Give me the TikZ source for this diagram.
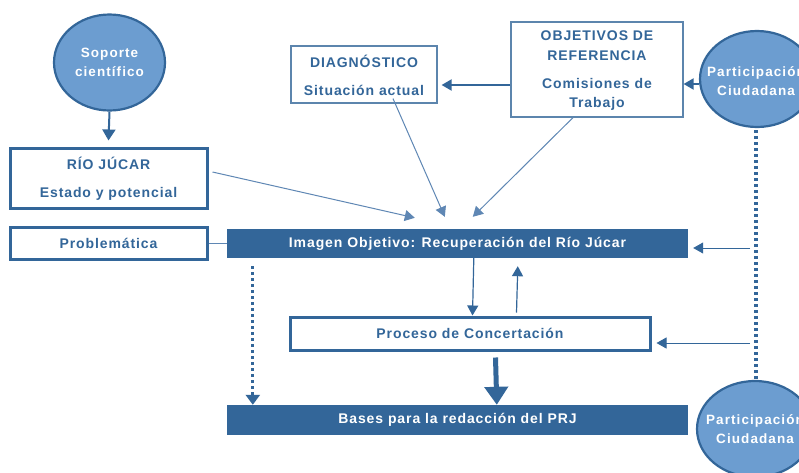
\documentclass[tikz,border=0pt]{standalone}
\usepackage{fontspec}
\setmainfont{Liberation Sans}[LetterSpace=6.5]
\newfontfamily\circfont{Liberation Sans}[LetterSpace=8]
\usetikzlibrary{arrows.meta,calc,shapes.geometric}
\definecolor{dblue}{RGB}{51,102,153}
\definecolor{cfill}{RGB}{108,157,208}
\definecolor{lblue}{RGB}{95,135,180}
\begin{document}
\begin{tikzpicture}[x=1pt,y=-1pt,
  txt/.style={font=\fontsize{14}{28}\selectfont\bfseries, text=dblue, align=center},
  wtxt/.style={font=\fontsize{14}{19}\selectfont\bfseries, text=white, align=center},
  ctxt/.style={font=\circfont\fontsize{13.5}{18.5}\selectfont\bfseries, text=white, align=center},
  thickbox/.style={draw=dblue, line width=3pt, fill=white, inner sep=0pt},
  thinbox/.style={draw=dblue!80, line width=1.2pt, fill=white, inner sep=0pt},
  bar/.style={fill=dblue, draw=none, inner sep=0pt},
  circ/.style={ellipse, draw=dblue, line width=2.2pt, fill=cfill, inner sep=0pt, minimum width=111pt, minimum height=96pt},
  tip/.style={-{Triangle[length=10pt,width=11pt]}},
  conn/.style={draw=lblue, line width=1pt, tip},
  sconn/.style={draw=dblue, line width=2pt, tip},
  dots/.style={draw=dblue, line width=4pt, dash pattern=on 3.2pt off 2.8pt},
]
\useasboundingbox (0,0) rectangle (799,472);
\fill[white] (0,0) rectangle (799,472);
% circles
\node[circ] (sop) at (109.5,62.5) {};
\node[ctxt] (sopt) at (sop.center) {Soporte\\científico};
\node[circ, minimum width=114pt] (pa1) at (757,79) {};
\node[ctxt] (pa1t) at ($(pa1.center)+(-1,2)$) {Participación\\Ciudadana};
\node[circ, minimum width=116pt] (pa2) at (755,429) {};
\node[ctxt] (pa2t) at ($(pa2.center)+(0,0)$) {Participación\\Ciudadana};
% boxes
\node[thickbox, minimum width=197pt, minimum height=60pt] (rio) at (108.5,178) {};
\node[txt] (riot) at ($(rio.center)+(0,1)$) {RÍO JÚCAR\\Estado y potencial};
\node[thinbox, minimum width=146pt, minimum height=57pt] (dia) at (364,74.5) {};
\node[txt] (diat) at ($(dia.center)+(0,0.5)$) {DIAGNÓSTICO\\Situación actual};
\node[thinbox, minimum width=172pt, minimum height=95pt] (obj) at (597,69.5) {};
\node[txt, font=\fontsize{14}{19.5}\selectfont\bfseries] (objt) at ($(obj.center)+(0,1.5)$) {OBJETIVOS DE\\REFERENCIA\\[8.5pt]Comisiones de\\Trabajo};
\node[thickbox, txt, minimum width=197pt, minimum height=32pt] (pro) at (108.5,243) {Problemática};
\node[bar, wtxt, minimum width=461pt, minimum height=29pt] (img) at (457.5,243.5) {Imagen Objetivo: Recuperación del Río Júcar};
\node[thickbox, txt, minimum width=360pt, minimum height=33pt] (con) at (470,333.5) {Proceso de Concertación};
\node[bar, wtxt, minimum width=461pt, minimum height=30pt] (bas) at (457.5,420) {Bases para la redacción del PRJ};
% connectors
\draw[sconn, -{Triangle[length=11pt,width=13pt]}] (sop.south) -- ([yshift=6pt]rio.north);
\coordinate (q1) at ($(pa1.west)+(0.5,5)$);
\draw[sconn] (q1) -- (obj.east |- q1);
\draw[sconn] (obj.west |- 0,85) coordinate (o1) -- ([xshift=4pt]dia.east |- o1);
\coordinate (r1) at ($(rio.east)+(4,-6)$);
\coordinate (t1) at ($(img.north west)+(188,-11)$);
\draw[conn] (r1) -- (t1);
\coordinate (d1) at ($(dia.south)+(29,-5)$);
\coordinate (t2) at ($(img.north west)+(218,-12)$);
\draw[conn] (d1) -- (t2);
\coordinate (o2) at ($(obj.south)+(-24,0)$);
\coordinate (t3) at ($(img.north west)+(246,-12)$);
\draw[conn] (o2) -- (t3);
\draw[draw=lblue, line width=1pt] (pro.east) -- (img.west |- pro.east);
% dotted participation line
\draw[dots] ($(pa1.south -| 756,0)+(0,2)$) -- (pa2.north -| 756,0);
\coordinate (p1) at (750,248);
\coordinate (p2) at (750,343);
\draw[conn, draw=dblue] (p1) -- ([xshift=5pt]img.east |- p1);
\draw[conn, draw=dblue] (p2) -- ([xshift=5pt]con.east |- p2);
% dotted down
\draw[dots, line width=3pt, dash pattern=on 3pt off 3pt, -{Triangle[length=10pt,width=14pt]}] ($(img.south west)+(26,8)$) -- ($(bas.north west)+(26,0)$);
% between image and process
\draw[conn, draw=dblue, line width=1.2pt] ($(img.south west)+(247,0)$) -- ($(con.north west)+(184,0)$);
\draw[conn, draw=dblue, line width=1.2pt] ($(con.north west)+(228,-3)$) -- ($(img.south west)+(291,8)$);
% thick arrow
\draw[dblue, line width=5pt, -{Triangle[length=18pt,width=23pt]}] ($(con.south west)+(207,6)$) -- ($(bas.north west)+(270,0)$);
\end{tikzpicture}
\end{document}
